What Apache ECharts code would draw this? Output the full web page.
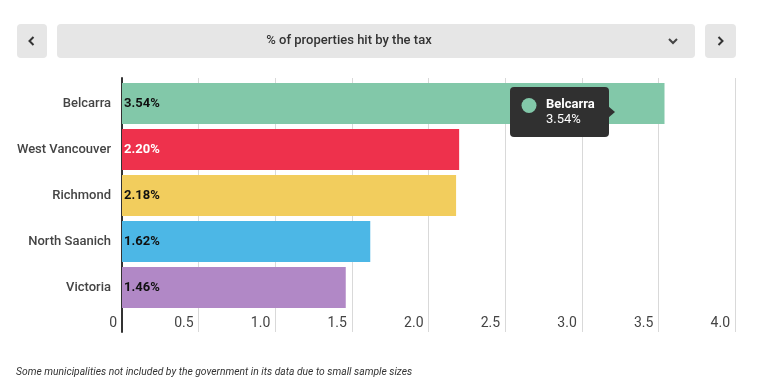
<!DOCTYPE html>
<html><head><meta charset="utf-8">
<script src="https://cdn.jsdelivr.net/npm/echarts@6/dist/echarts.min.js"></script>
<style>html,body{margin:0;padding:0;background:#fff}#c{width:759px;height:391px}</style>
</head><body><div id="c"></div>
<script>
const categories = ['Belcarra','West Vancouver','Richmond','North Saanich','Victoria'];
const values = [3.54, 2.20, 2.18, 1.62, 1.46];
const barColors = ['#82c8a9','#ee314c','#f2cd5d','#4cb7e6','#b188c6'];
const labelColors = ['#111','#fff','#111','#111','#111'];
const xTicks = [0, 0.5, 1.0, 1.5, 2.0, 2.5, 3.0, 3.5, 4.0];
const title = '% of properties hit by the tax';
const note = 'Some municipalities not included by the government in its data due to small sample sizes';
const tipIndex = 0;

const chart = echarts.init(document.getElementById('c'));
const FONT = 'Roboto, sans-serif';
chart.setOption({
  animation:false,
  grid:[
    {left:122,right:24,top:80.5,height:230},
    {left:122,right:24,top:78,bottom:59}
  ],
  xAxis:[
    {gridIndex:0,type:'value',min:0,max:4,interval:0.5,show:false},
    {gridIndex:1,type:'value',min:0,max:4,interval:0.5,
     axisLine:{show:false},axisTick:{show:false},
     splitLine:{show:true,lineStyle:{color:'#d9d9d9',width:1}},
     axisLabel:{inside:true,margin:2,align:'right',padding:[0,5,0,0],
       color:'#444',fontSize:14,fontFamily:FONT,
       formatter:v=>{const t=xTicks.find(x=>Math.abs(x-v)<1e-9);return t===0?'0':t.toFixed(1);}}}
  ],
  yAxis:[
    {gridIndex:0,type:'category',data:categories,inverse:true,
     axisLine:{show:false},axisTick:{show:false},
     axisLabel:{color:'#444',fontSize:13,fontWeight:500,fontFamily:FONT,margin:11}},
    {gridIndex:1,type:'value',min:0,max:1,
     axisLine:{show:true,lineStyle:{color:'#333',width:2}},
     axisTick:{show:false},axisLabel:{show:false},splitLine:{show:false}}
  ],
  series:[{
    type:'bar',xAxisIndex:0,yAxisIndex:0,barCategoryGap:'11%',
    data:values.map((v,i)=>({value:v,itemStyle:{color:barColors[i]},
      label:{color:labelColors[i]}})),
    label:{show:true,position:'insideLeft',offset:[-3,0],fontSize:13,fontWeight:'bold',
      fontFamily:FONT,formatter:p=>p.value.toFixed(2)+'%'},
    z:3
  }],
  graphic:[
    {type:'rect',shape:{x:17,y:24,width:30,height:34,r:4},style:{fill:'#e6e6e6'}},
    {type:'polyline',shape:{points:[[33.5,37],[29.5,41],[33.5,45]]},style:{stroke:'#333',lineWidth:2,fill:null}},
    {type:'rect',shape:{x:57,y:24,width:638,height:34,r:4},style:{fill:'#e6e6e6'}},
    {type:'text',style:{x:349,y:41,text:title,fill:'#333',font:'500 13px Roboto, sans-serif',align:'center',verticalAlign:'middle'}},
    {type:'polyline',shape:{points:[[669,39],[673,43],[677,39]]},style:{stroke:'#444',lineWidth:2,fill:null}},
    {type:'rect',shape:{x:705,y:24,width:31,height:34,r:4},style:{fill:'#e6e6e6'}},
    {type:'polyline',shape:{points:[[718.5,37],[722.5,41],[718.5,45]]},style:{stroke:'#333',lineWidth:2,fill:null}},
    {type:'text',style:{x:16,y:372,text:note,fill:'#333',font:'italic 10.3px "Liberation Sans Narrow", Roboto, sans-serif',verticalAlign:'middle'}},
    {type:'rect',z:100,shape:{x:510,y:87,width:99,height:50,r:4},style:{fill:'#303030'}},
    {type:'polygon',z:100,shape:{points:[[608,106],[615,112],[608,118]]},style:{fill:'#303030'}},
    {type:'circle',z:101,shape:{cx:529,cy:105.5,r:7.5},style:{fill:barColors[tipIndex]}},
    {type:'text',z:101,style:{x:546,y:105,text:categories[tipIndex],fill:'#fff',font:'bold 13px Roboto, sans-serif',verticalAlign:'middle'}},
    {type:'text',z:101,style:{x:546,y:120,text:values[tipIndex].toFixed(2)+'%',fill:'#fff',font:'13px Roboto, sans-serif',verticalAlign:'middle'}}
  ]
});
</script></body></html>
